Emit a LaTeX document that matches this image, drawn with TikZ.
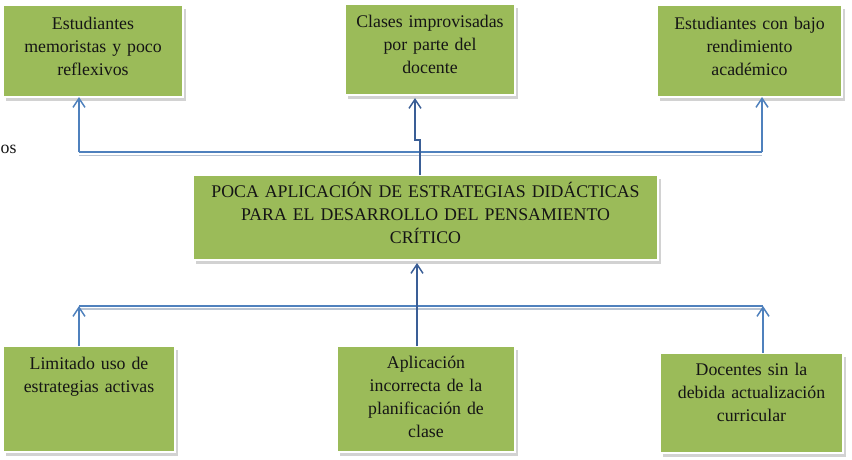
\documentclass[tikz,border=0pt]{standalone}
\usepackage{fontspec}
\setmainfont{Liberation Serif}
\usetikzlibrary{arrows.meta,shadows}
\definecolor{boxgreen}{HTML}{9BBB59}
\definecolor{lineblue}{HTML}{4F81BD}
\definecolor{darkblue}{HTML}{3A5E96}
\definecolor{lineshadow}{HTML}{B9C4D2}
\definecolor{inkblack}{HTML}{151515}
\begin{document}
\begin{tikzpicture}[x=1pt,y=-1pt,
  box/.style={rectangle, fill=boxgreen, draw=white, line width=2.2pt, outer sep=0pt,
    drop shadow={opacity=0.35, shadow xshift=3pt, shadow yshift=-3.5pt}},
  txt/.style={inner sep=0pt, text width=#1, align=center, anchor=north, text=inkblack,
    font=\fontsize{17.8}{23}\selectfont},
  conn/.style={draw=lineblue, line width=1.5pt},
  cconn/.style={draw=darkblue, line width=1.5pt},
  shline/.style={draw=lineshadow, line width=1.5pt},
  tip/.style={-{Straight Barb[length=9pt,width=12pt]}}]
\clip (0,0) rectangle (852,459);
\fill[white] (0,0) rectangle (852,459);

% stray text at left edge
\node[inner sep=0pt, anchor=base west, text=inkblack, font=\fontsize{17.8}{23}\selectfont] (os) at (0.5,153) {os};

% boxes
\node[box, minimum width=180pt, minimum height=92pt] (tl) at (93,51) {};
\node[box, minimum width=170pt, minimum height=91pt] (tc) at (430,49.5) {};
\node[box, minimum width=185pt, minimum height=92pt] (tr) at (749.5,51) {};
\node[box, minimum width=465pt, minimum height=85pt] (cb) at (425.5,217.5) {};
\node[box, minimum width=172pt, minimum height=106pt] (bl) at (89,399) {};
\node[box, minimum width=178pt, minimum height=106pt] (bc) at (426,399) {};
\node[box, minimum width=183pt, minimum height=100pt] (br) at (751.5,403) {};

% texts
\node[txt=175pt] (tlt) at (93,12.9) {\strut Estudiantes\\memoristas y poco\\reflexivos};
\node[txt=168pt] (tct) at (430,10.9) {\strut Clases improvisadas\\por parte del\\docente};
\node[txt=180pt] (trt) at (749.5,12.9) {\strut Estudiantes con bajo\\rendimiento\\académico};
\node[txt=460pt] (cbt) at (425.5,180.9) {\strut POCA APLICACIÓN DE ESTRATEGIAS DIDÁCTICAS\\PARA EL DESARROLLO DEL PENSAMIENTO\\CRÍTICO};
\node[txt=170pt] (blt) at (89,352.9) {\strut Limitado uso de\\estrategias activas};
\node[txt=175pt] (bct) at (426,351.9) {\strut Aplicación\\incorrecta de la\\planificación de\\clase};
\node[txt=180pt] (brt) at (751.5,358.9) {\strut Docentes sin la\\debida actualización\\curricular};

% top connectors
\coordinate (tL) at (79,152);
\coordinate (tR) at (762,152);
\coordinate (j1) at (420,140);
\coordinate (j2) at (415,140);
\draw[shline] ([yshift=-3.5pt]tL) -- ([yshift=-3.5pt]tR);
\draw[conn] (tL) -- (tR);
\draw[conn,tip] (tL) -- (tl.south -| tL);
\draw[conn,tip] (tR) -- (tr.south -| tR);
\draw[cconn,tip] (cb.north -| j1) -- (j1) -- (j2) -- ([yshift=-3pt]tc.south -| j2);

% bottom connectors
\coordinate (bL) at (79,306);
\coordinate (bR) at (763,306);
\draw[shline] ([yshift=-3pt]bL) -- ([yshift=-3pt]bR);
\draw[conn] (bL) -- (bR);
\draw[conn,tip] (bl.north -| bL) -- (bL);
\draw[conn,tip] (br.north -| bR) -- (bR);
\coordinate (bC) at (417,0);
\draw[cconn,tip] (bc.north -| bC) -- ([yshift=-3pt]cb.south -| bC);
\end{tikzpicture}
\end{document}
